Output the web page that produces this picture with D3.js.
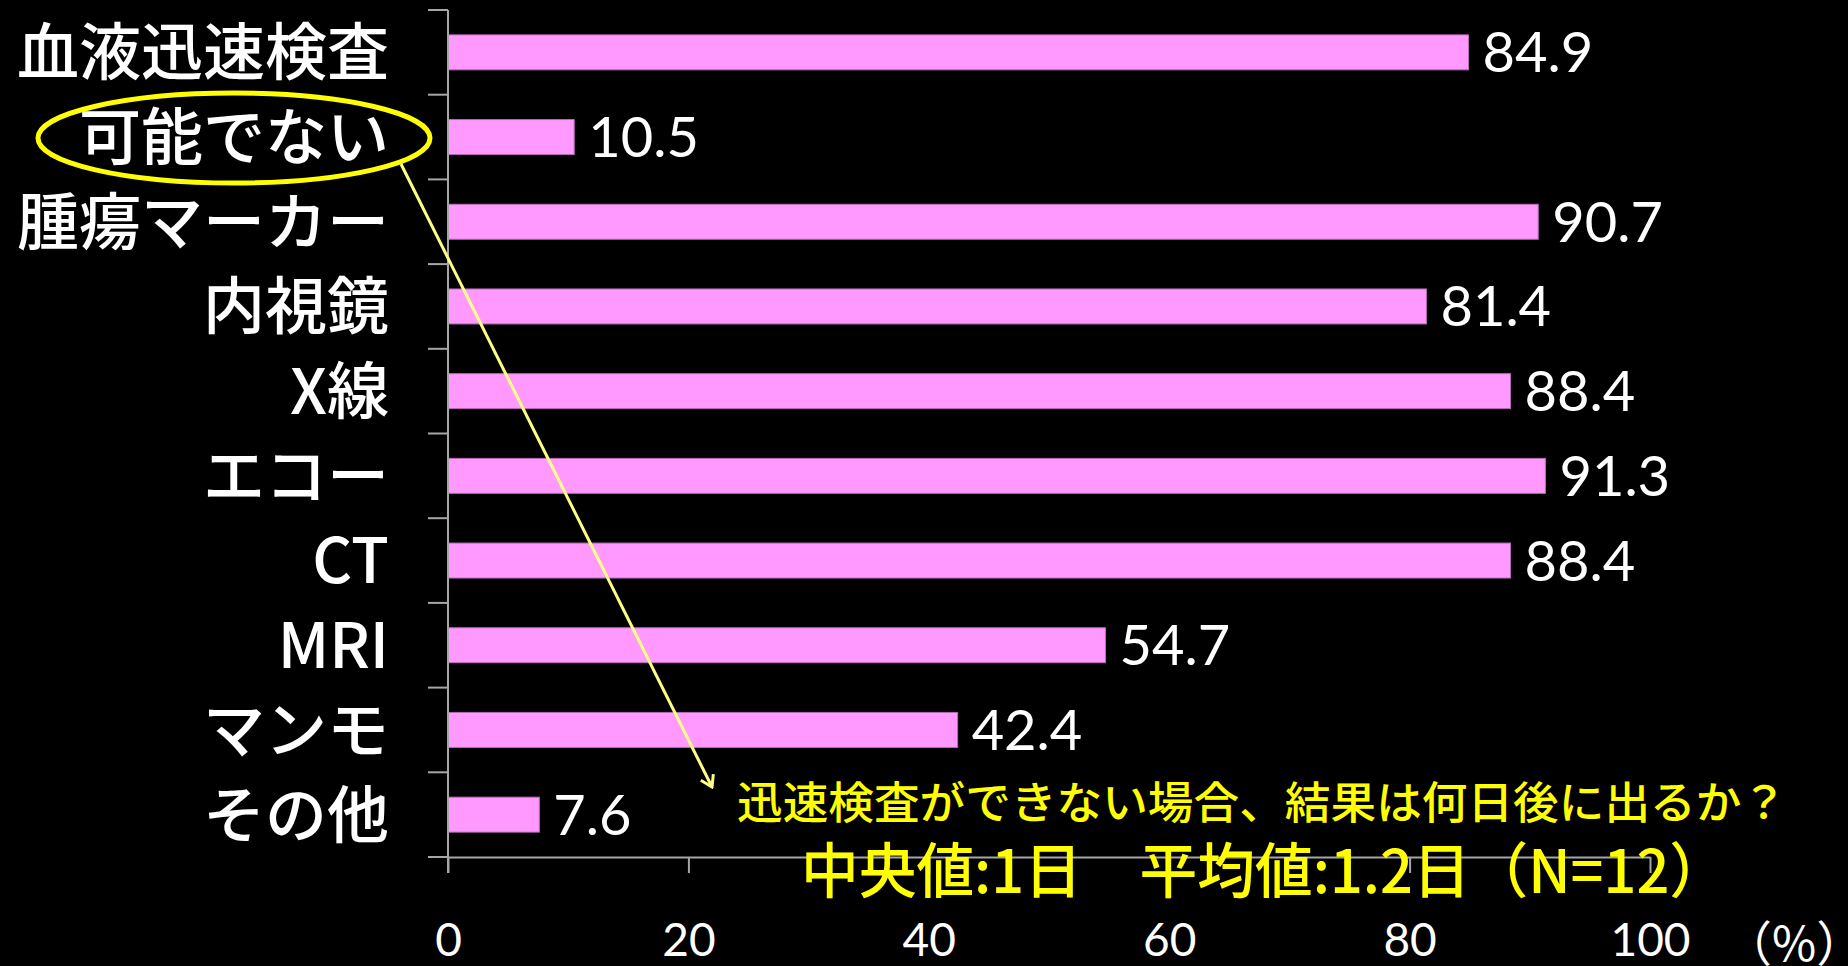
<!DOCTYPE html>
<html lang="ja">
<head>
<meta charset="utf-8">
<script src="https://cdn.jsdelivr.net/npm/d3@7/dist/d3.min.js"></script>
<style>
  html, body { margin: 0; padding: 0; background: #000; }
  svg { display: block; }
</style>
</head>
<body>
<svg id="chart" width="1848" height="966"></svg>
<script>
// Categories (top to bottom) and their percentages
const categories = ["血液迅速検査", "可能でない", "腫瘍マーカー", "内視鏡", "X線", "エコー", "CT", "MRI", "マンモ", "その他"];
const values = [84.9, 10.5, 90.7, 81.4, 88.4, 91.3, 88.4, 54.7, 42.4, 7.6];
const xTicks = [0, 20, 40, 60, 80, 100];
const unitLabel = "（%）";
const noteQuestion = "迅速検査ができない場合、結果は何日後に出るか？";
const noteAnswer = "中央値:1日　平均値:1.2日（N=12）";

const svg = d3.select("#chart");
const JP = "'Noto Sans CJK JP', 'Noto Sans', sans-serif";
const NUM = "Lato, 'Noto Sans', sans-serif";
const AXIS = "#a6a6a6";

svg.append("rect").attr("width", 1848).attr("height", 966).attr("fill", "#000");

const x = d3.scaleLinear().domain([0, 100]).range([448, 1650]);
const y = d3.scaleBand().domain(categories).range([10, 857])
  .paddingInner(0.587).paddingOuter(0.2935);

const step = y.step();
const y0 = 10, y1 = 857;

// Bars
svg.append("g").selectAll("rect").data(values).join("rect")
  .attr("x", x(0))
  .attr("y", (d, i) => y(categories[i]))
  .attr("width", d => x(d) - x(0))
  .attr("height", y.bandwidth())
  .attr("fill", "#ff99ff")
  .attr("stroke", "#b46cb4")
  .attr("stroke-width", 1);

// Value labels
svg.append("g").selectAll("text").data(values).join("text")
  .attr("x", d => x(d) + 14)
  .attr("y", (d, i) => y(categories[i]) + y.bandwidth() / 2 + 20)
  .attr("fill", "#fff")
  .attr("font-family", NUM)
  .attr("font-size", 56)
  .text(d => d.toFixed(1));

// Vertical axis with ticks at band boundaries
const yAxis = svg.append("g");
yAxis.append("line").attr("x1", x(0)).attr("x2", x(0)).attr("y1", y0).attr("y2", y1 + 16)
  .attr("stroke", AXIS).attr("stroke-width", 2);
yAxis.selectAll("line.tick").data(d3.range(categories.length + 1)).join("line")
  .attr("class", "tick")
  .attr("x1", x(0) - 20).attr("x2", x(0))
  .attr("y1", i => y0 + i * step).attr("y2", i => y0 + i * step)
  .attr("stroke", AXIS).attr("stroke-width", 2);

// Category labels
svg.append("g").selectAll("text").data(categories).join("text")
  .attr("x", 389)
  .attr("y", d => y(d) + y.bandwidth() / 2)
  .attr("dy", "0.37em")
  .attr("text-anchor", "end")
  .attr("fill", "#fff")
  .attr("font-family", JP)
  .attr("font-weight", 500)
  .attr("font-size", 62)
  .text(d => d);

// Horizontal axis
const xAxis = svg.append("g").attr("transform", `translate(0,${y1})`)
  .call(d3.axisBottom(x).tickValues(xTicks).tickSize(16).tickPadding(66).tickSizeOuter(0));
xAxis.select(".domain").attr("stroke", AXIS).attr("stroke-width", 2);
xAxis.selectAll(".tick line").attr("stroke", AXIS).attr("stroke-width", 2);
xAxis.selectAll(".tick text")
  .attr("fill", "#fff").attr("font-family", NUM).attr("font-size", 46).attr("dy", "0.36em");

// Unit label beside the last tick
svg.append("text")
  .attr("x", 1724).attr("y", 944).attr("dy", "0.36em")
  .attr("fill", "#fff").attr("font-family", JP).attr("font-size", 48)
  .text(unitLabel);

// Highlight around the "可能でない" label
const hl = categories[1];
svg.append("ellipse")
  .attr("cx", 234).attr("cy", y(hl) + y.bandwidth() / 2 + 1)
  .attr("rx", 196).attr("ry", 45)
  .attr("fill", "none").attr("stroke", "#ffff00").attr("stroke-width", 5);

// Leader arrow to the note
svg.append("defs").append("marker")
  .attr("id", "chev").attr("viewBox", "-12 -8 14 16")
  .attr("refX", 0).attr("refY", 0)
  .attr("markerWidth", 14).attr("markerHeight", 16)
  .attr("markerUnits", "userSpaceOnUse")
  .attr("orient", "auto")
  .append("path").attr("d", "M-11,-7 L0,0 L-11,7")
  .attr("fill", "none").attr("stroke", "#ffff88").attr("stroke-width", 3);

svg.append("line")
  .attr("x1", 401).attr("y1", 164).attr("x2", 712).attr("y2", 787)
  .attr("stroke", "#ffff88").attr("stroke-width", 3)
  .attr("marker-end", "url(#chev)");

// Note text
svg.append("text")
  .attr("x", 737).attr("y", 819)
  .attr("fill", "#ffff00").attr("font-family", JP).attr("font-weight", 500).attr("font-size", 44)
  .attr("textLength", 1050).attr("lengthAdjust", "spacingAndGlyphs")
  .text(noteQuestion);

svg.append("text")
  .attr("x", 801).attr("y", 893)
  .attr("fill", "#ffff00").attr("font-family", JP).attr("font-weight", 500).attr("font-size", 60)
  .attr("textLength", 926).attr("lengthAdjust", "spacingAndGlyphs")
  .text(noteAnswer);
</script>
</body>
</html>
